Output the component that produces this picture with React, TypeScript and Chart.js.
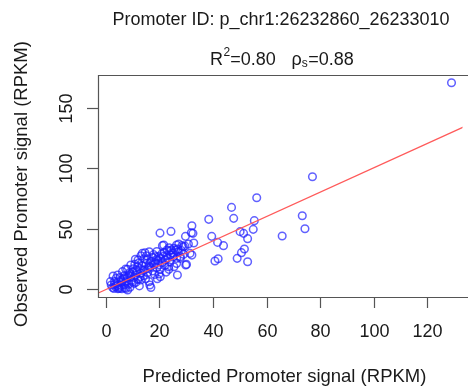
import React, { useEffect, useRef } from "react";
import { Chart, registerables } from "chart.js";

Chart.register(...registerables);

const titleText = "Promoter ID: p_chr1:26232860_26233010";
const xTitle = "Predicted Promoter signal (RPKM)";
const yTitle = "Observed Promoter signal (RPKM)";
const r2Text = "=0.80";
const rhoText = "=0.88";

const xTicks = [0, 20, 40, 60, 80, 100, 120];
const yTicks = [0, 50, 100, 150];
const xLimits = [-2.94, 133.1];
const yLimits = [-6.6, 177.2];

const fitSlope = 1.008;
const fitIntercept = -0.44;

const predicted = [
  129.0, 77.1, 56.3, 46.9, 47.7, 38.4, 73.3, 74.3, 65.8, 55.4,
  55.0, 52.9, 50.1, 51.4, 51.7, 50.6, 49.0, 52.9, 41.9, 40.7,
  39.5, 41.7, 43.9, 32.1, 32.5, 29.7, 32.8, 32.1, 29.8, 26.7,
  24.3, 20.2, 21.1, 24.4, 28.4, 27.2, 26.0, 27.8, 25.4, 23.5,
  20.3, 16.4, 16.8, 12.5, 16.2, 13.1, 11.0, 7.4, 2.7, 1.7,
  31.9, 21.6, 26.4, 28.9, 22.8, 25.2, 19.7, 15.4, 18.5, 22.1,
  26.4, 31.4, 30.1, 26.4, 23.4, 20.3, 16.7, 11.8, 8.1, 13.0,
  16.1, 9.3, 5.6, 3.2, 2.0, 5.0, 8.1, 6.9, 10.5, 13.0,
  4.4, 6.2, 9.3, 13.6, 30.8, 24.1, 25.4, 29.0, 27.8, 18.6,
  3.5, 4.0, 4.8, 5.5, 6.0, 6.5, 7.0, 7.5, 8.0, 8.5,
  9.0, 9.5, 10.0, 10.5, 11.0, 11.5, 12.0, 12.5, 13.5, 14.0,
  14.5, 15.0, 15.5, 16.0, 17.0, 17.5, 18.0, 19.0, 19.5, 20.0,
  21.0, 22.0, 21.5, 23.0, 24.0, 25.0, 3.0, 4.5, 6.0, 7.5,
  9.0, 5.2, 8.8, 12.2, 14.2, 17.8, 19.0, 11.2, 14.8, 18.2,
  22.5, 2.5, 3.8, 6.8, 10.2, 15.2, 20.8, 23.8, 27.0, 19.2,
  4.2, 5.8, 7.2, 8.6, 9.8, 11.6, 12.8, 13.8, 15.8, 16.6,
  17.4, 18.8, 20.6, 21.8, 22.8, 23.6, 24.8, 26.8, 28.2, 29.5,
  12.0, 10.8, 14.6, 19.8, 3.2,
];

const observed = [
  170.8, 93.0, 75.6, 67.6, 58.5, 57.7, 60.7, 49.9, 43.9, 56.6,
  49.4, 41.7, 47.5, 46.1, 33.1, 30.1, 25.4, 22.6, 25.1, 23.2,
  43.6, 38.6, 35.9, 52.4, 46.1, 43.6, 38.1, 28.1, 19.9, 11.6,
  47.7, 46.3, 35.9, 32.3, 35.9, 37.3, 32.3, 26.8, 18.5, 16.3,
  10.2, 3.3, 1.3, 2.6, 30.9, 27.6, 24.6, 16.6, 10.8, 6.1,
  46.6, 36.4, 36.4, 35.0, 32.3, 29.5, 26.8, 24.0, 21.8, 24.0,
  25.4, 29.5, 20.4, 21.2, 18.5, 16.3, 18.5, 18.5, 16.3, 13.0,
  6.1, 10.2, 7.5, 6.1, 3.3, 0.4, -0.8, 3.3, 4.7, 7.5,
  11.6, 14.4, 19.9, 29.5, 37.3, 28.1, 33.7, 28.7, 25.4, 26.8,
  2.0, 4.5, 1.5, 3.0, 5.5, 8.5, 1.0, 6.0, 9.0, 4.0,
  12.5, 7.0, 14.0, 9.5, 11.5, 15.5, 8.0, 17.0, 19.5, 11.0,
  16.0, 21.0, 13.5, 19.0, 23.0, 15.0, 20.5, 17.5, 23.5, 20.0,
  22.0, 19.5, 27.0, 25.5, 22.5, 26.5, 0.5, 0.2, 0.3, 0.5,
  1.5, 9.5, 13.5, 21.5, 25.0, 28.5, 31.0, 5.5, 8.5, 12.0,
  14.0, 1.2, 8.8, 11.0, 16.8, 27.5, 29.0, 31.5, 30.5, 8.5,
  2.8, 6.8, 9.8, 11.2, 5.8, 13.8, 10.2, 15.2, 17.0, 21.5,
  26.2, 24.2, 25.2, 30.2, 27.8, 34.2, 30.0, 33.0, 31.8, 35.5,
  24.0, 20.5, 30.0, 12.5, 3.8,
];

const FONT = "'Liberation Sans', Arial, sans-serif";
const TEXT = "#1a1a1a";
const AXIS = "#555555";

const axesPlugin = {
  id: "rAxes",
  afterDraw(chart: any) {
    const { ctx, chartArea, scales } = chart;
    const xs = scales.x;
    const ys = scales.y;
    ctx.save();
    ctx.strokeStyle = AXIS;
    ctx.lineWidth = 1.2;
    ctx.beginPath();
    ctx.moveTo(chartArea.right + 10, chartArea.top + 0.5);
    ctx.lineTo(chartArea.left + 0.5, chartArea.top + 0.5);
    ctx.lineTo(chartArea.left + 0.5, chartArea.bottom + 0.5);
    ctx.lineTo(chartArea.right + 10, chartArea.bottom + 0.5);
    ctx.stroke();

    ctx.fillStyle = TEXT;
    ctx.font = `18px ${FONT}`;
    ctx.textAlign = "center";
    ctx.textBaseline = "alphabetic";
    xTicks.forEach((v) => {
      const px = Math.round(xs.getPixelForValue(v)) + 0.5;
      ctx.beginPath();
      ctx.moveTo(px, chartArea.bottom);
      ctx.lineTo(px, chartArea.bottom + 11);
      ctx.stroke();
      ctx.fillText(String(v), px, 337);
    });

    yTicks.forEach((v) => {
      const py = Math.round(ys.getPixelForValue(v)) + 0.5;
      ctx.beginPath();
      ctx.moveTo(chartArea.left - 11, py);
      ctx.lineTo(chartArea.left, py);
      ctx.stroke();
      ctx.save();
      ctx.translate(72, py);
      ctx.rotate(-Math.PI / 2);
      ctx.fillText(String(v), 0, 0);
      ctx.restore();
    });

    ctx.font = `18.5px ${FONT}`;
    ctx.fillText(xTitle, 284.5, 381.5);
    ctx.save();
    ctx.translate(27, 184);
    ctx.rotate(-Math.PI / 2);
    ctx.fillText(yTitle, 0, 0);
    ctx.restore();

    ctx.font = `18px ${FONT}`;
    ctx.fillText(titleText, 281, 25);

    ctx.textAlign = "left";
    let x = 210;
    const base = 65;
    ctx.font = `18px ${FONT}`;
    ctx.fillText("R", x, base);
    x += ctx.measureText("R").width;
    ctx.font = `12px ${FONT}`;
    ctx.fillText("2", x + 0.5, base - 9);
    x += ctx.measureText("2").width + 0.5;
    ctx.font = `18px ${FONT}`;
    ctx.fillText(r2Text, x, base);
    x = 291.5;
    ctx.fillText("ρ", x, base);
    x += ctx.measureText("ρ").width;
    ctx.font = `12px ${FONT}`;
    ctx.fillText("s", x, base + 2);
    x += ctx.measureText("s").width + 0.5;
    ctx.font = `18px ${FONT}`;
    ctx.fillText(rhoText, x, base);
    ctx.restore();
  },
};

export default function App() {
  const ref = useRef<HTMLCanvasElement | null>(null);

  useEffect(() => {
    if (!ref.current) return;
    const points = predicted.map((p, i) => ({ x: p, y: observed[i] }));
    const fitLine = [
      { x: xLimits[0] - 5, y: fitIntercept + fitSlope * (xLimits[0] - 5) },
      { x: xLimits[1] + 5, y: fitIntercept + fitSlope * (xLimits[1] + 5) },
    ];
    const chart = new Chart(ref.current, {
      type: "scatter",
      data: {
        datasets: [
          {
            type: "scatter",
            data: points,
            pointStyle: "circle",
            pointRadius: 3.8,
            pointBorderWidth: 1.5,
            pointBackgroundColor: "rgba(0,0,0,0)",
            pointBorderColor: "rgba(30,30,255,0.7)",
            order: 2,
          },
          {
            type: "line",
            data: fitLine,
            borderColor: "#ff5a5a",
            borderWidth: 1.3,
            pointRadius: 0,
            fill: false,
            order: 1,
          } as any,
        ],
      },
      options: {
        animation: false,
        responsive: false,
        devicePixelRatio: 1,
        layout: { padding: { left: 98, top: 75, right: 0, bottom: 93 } },
        plugins: {
          legend: { display: false },
          tooltip: { enabled: false },
          title: { display: false },
        },
        scales: {
          x: { type: "linear", display: false, min: xLimits[0], max: xLimits[1] },
          y: { type: "linear", display: false, min: yLimits[0], max: yLimits[1] },
        },
      },
      plugins: [axesPlugin],
    });
    return () => chart.destroy();
  }, []);

  return (
    <div style={{ position: "fixed", left: 0, top: 0, width: 468, height: 390, background: "#fff" }}>
      <canvas ref={ref} width={468} height={390} />
    </div>
  );
}
